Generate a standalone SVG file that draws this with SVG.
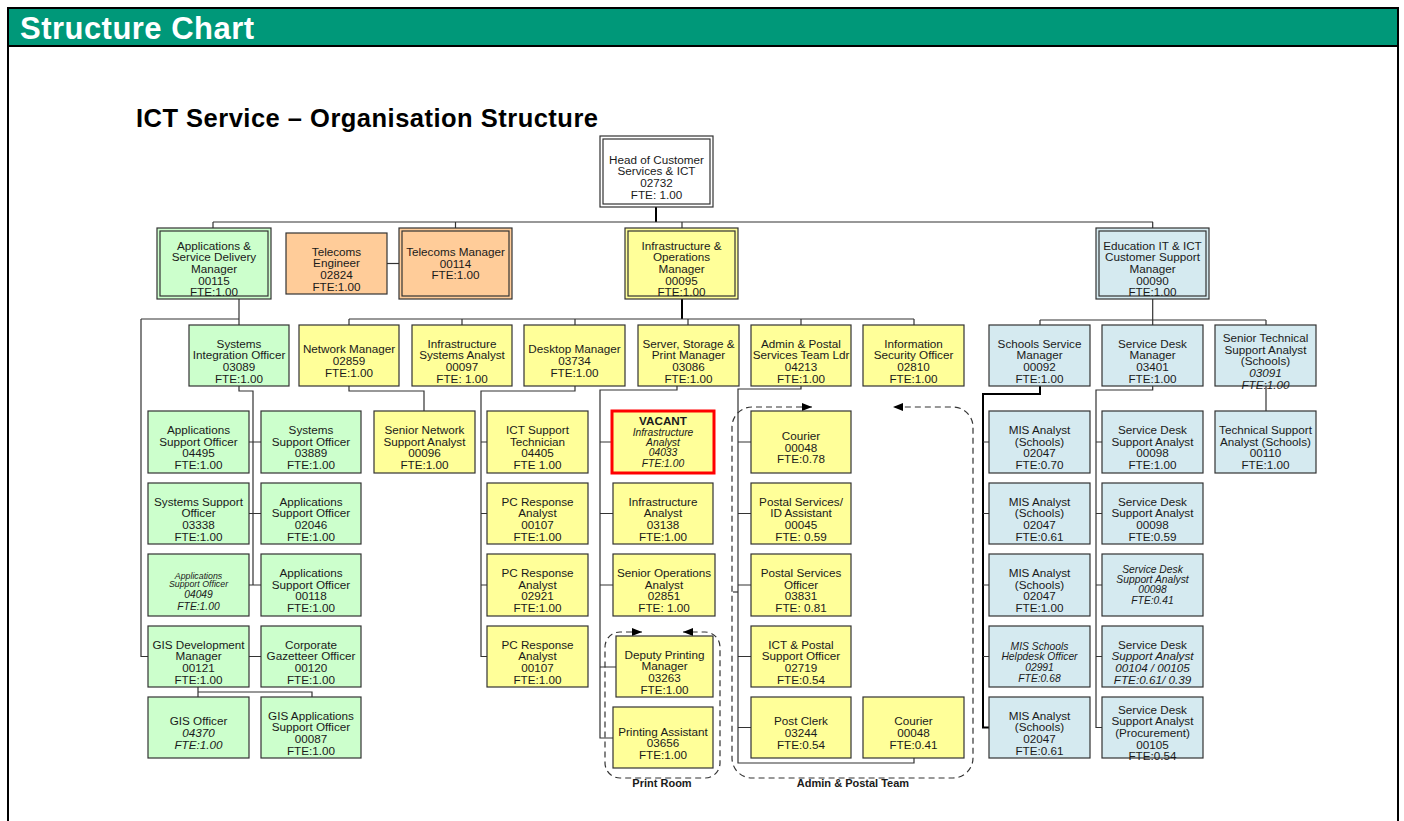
<svg xmlns="http://www.w3.org/2000/svg" width="1404" height="821" viewBox="0 0 1404 821">
<style>
text{font-family:"Liberation Sans",Arial,sans-serif;fill:#1a1a1a;text-anchor:middle;font-size:11.7px}
.i{font-style:italic}
.bd{font-weight:bold}
.g{fill:#ccffcc;stroke:#333;stroke-width:1.2}
.y{fill:#ffff99;stroke:#333;stroke-width:1.2}
.o{fill:#ffcc99;stroke:#333;stroke-width:1.2}
.b{fill:#d5eaf0;stroke:#333;stroke-width:1.2}
.w{fill:#fff;stroke:#333;stroke-width:1.2}
.in{fill:none;stroke:#333;stroke-width:1.2}
.c{fill:none;stroke:#333;stroke-width:1.2}
.ct{fill:none;stroke:#000;stroke-width:2}
.d{fill:none;stroke:#333;stroke-width:1.2;stroke-dasharray:6 4}
</style>
<defs>
<marker id="ar" markerUnits="userSpaceOnUse" markerWidth="12" markerHeight="10" refX="10" refY="4" orient="auto-start-reverse"><path d="M0,0 L10,4 L0,8 Z" fill="#000"/></marker>
</defs>
<rect x="8" y="8" width="1390" height="850" fill="#fff" stroke="#000" stroke-width="2"/>
<rect x="9" y="9" width="1388" height="36" fill="#009879"/>
<line x1="8" y1="46" x2="1398" y2="46" stroke="#000" stroke-width="2"/>
<text x="20" y="39" textLength="234" style="fill:#fff;font-size:31px;font-weight:bold;text-anchor:start">Structure Chart</text>
<text x="136" y="127" textLength="462" style="font-size:25.5px;font-weight:bold;text-anchor:start;fill:#000">ICT Service – Organisation Structure</text>

<g id="connectors">
<path class="ct" d="M656 207V222"/>
<path class="c" d="M213 222H1153M213 222V228M455.5 222V228M682 222V228M1152.7 222V228"/>
<path class="c" d="M387 263.5H399"/>
<path class="c" d="M239 299V325M141 319H239M141 319V656.5H148"/>
<path class="c" d="M239 386V391H253V585M249 442H261M249 513.5H261M249 585H261"/>
<path class="c" d="M249 656.5H261M198 687V697M198 692H312V697"/>
<path class="ct" d="M682 299V319"/>
<path class="c" d="M349 319H914M349 319V325M462 319V325M575 319V325M688 319V325M801 319V325M914 319V325"/>
<path class="c" d="M349 386V391H424V411"/>
<path class="c" d="M575 386V391H481V656.5H487M481 442H487M481 513.5H487M481 585H487"/>
<path class="c" d="M677 386V390H600V738H613M600 442H612M600 513.5H613M600 585H613M600 667H616"/>
<path class="c" d="M801 386V389H738V763H914V758M738 442H751M738 513.5H751M738 585H751M738 656.5H751M738 727.5H751"/>
<path class="c" d="M733 592H738"/>
<path class="c" d="M1152.7 299V325M1040 320H1266M1040 320V325M1266 320V325"/>
<path class="ct" d="M1040 386V394H983V727.5H989"/>
<path class="c" d="M983 442H989M983 513.5H989M983 585H989M983 656.5H989"/>
<path class="c" d="M1152.7 386V390H1096V727.5H1102M1096 442H1102M1096 513.5H1102M1096 585H1102M1096 656.5H1102"/>
<path class="c" d="M1266 386V411"/>
</g>

<g id="print-room">
<path class="d" d="M642 632H620A15 15 0 0 0 605 647V763A15 15 0 0 0 620 778H705A15 15 0 0 0 720 763V647A15 15 0 0 0 705 632H683" marker-start="url(#ar)" marker-end="url(#ar)"/>
<text x="662" y="787" class="bd" style="font-size:11px">Print Room</text>
</g>
<g id="admin-team">
<path class="d" d="M812 407H752A20 20 0 0 0 732 427V758A20 20 0 0 0 752 778H953A20 20 0 0 0 973 758V427A20 20 0 0 0 953 407H893" marker-start="url(#ar)" marker-end="url(#ar)"/>
<text x="853" y="787" class="bd" style="font-size:11px">Admin &amp; Postal Team</text>
</g>

<g id="n-head"><rect class="w" x="600" y="136" width="113" height="71"/><rect class="in" x="603" y="139" width="107" height="65"/>
<text x="656.5"><tspan x="656.5" y="163.5">Head of Customer</tspan><tspan x="656.5" y="175.2">Services &amp; ICT</tspan><tspan x="656.5" y="186.9">02732</tspan><tspan x="656.5" y="198.6">FTE: 1.00</tspan></text></g>

<g id="n-apps-mgr"><rect class="g" x="157" y="228" width="114" height="71"/><rect class="in" x="160" y="231" width="108" height="65"/>
<text><tspan x="214" y="249.6">Applications &amp;</tspan><tspan x="214" y="261.3">Service Delivery</tspan><tspan x="214" y="273">Manager</tspan><tspan x="214" y="284.7">00115</tspan><tspan x="214" y="296.4">FTE:1.00</tspan></text></g>

<g id="n-tel-eng"><rect class="o" x="286" y="233" width="101" height="61"/>
<text><tspan x="336.5" y="255.5">Telecoms</tspan><tspan x="336.5" y="267.2">Engineer</tspan><tspan x="336.5" y="278.9">02824</tspan><tspan x="336.5" y="290.6">FTE:1.00</tspan></text></g>

<g id="n-tel-mgr"><rect class="o" x="399" y="228" width="113" height="71"/><rect class="in" x="402" y="231" width="107" height="65"/>
<text><tspan x="455.5" y="256">Telecoms Manager</tspan><tspan x="455.5" y="267.7">00114</tspan><tspan x="455.5" y="279.4">FTE:1.00</tspan></text></g>

<g id="n-infra-mgr"><rect class="y" x="625" y="228" width="113" height="71"/><rect class="in" x="628" y="231" width="107" height="65"/>
<text><tspan x="681.5" y="249.6">Infrastructure &amp;</tspan><tspan x="681.5" y="261.3">Operations</tspan><tspan x="681.5" y="273">Manager</tspan><tspan x="681.5" y="284.7">00095</tspan><tspan x="681.5" y="296.4">FTE:1.00</tspan></text></g>

<g id="n-edu-mgr"><rect class="b" x="1096" y="228" width="113" height="71"/><rect class="in" x="1099" y="231" width="107" height="65"/>
<text><tspan x="1152.5" y="249.6">Education IT &amp; ICT</tspan><tspan x="1152.5" y="261.3">Customer Support</tspan><tspan x="1152.5" y="273">Manager</tspan><tspan x="1152.5" y="284.7">00090</tspan><tspan x="1152.5" y="296.4">FTE:1.00</tspan></text></g>

<g id="n-sio"><rect class="g" x="189" y="325" width="100" height="61"/>
<text><tspan x="239" y="347.5">Systems</tspan><tspan x="239" y="359.2">Integration Officer</tspan><tspan x="239" y="370.9">03089</tspan><tspan x="239" y="382.6">FTE:1.00</tspan></text></g>

<g id="n-netmgr"><rect class="y" x="299" y="325" width="100" height="61"/>
<text><tspan x="349" y="353.3">Network Manager</tspan><tspan x="349" y="365">02859</tspan><tspan x="349" y="376.7">FTE:1.00</tspan></text></g>

<g id="n-isa"><rect class="y" x="412" y="325" width="100" height="61"/>
<text><tspan x="462" y="347.5">Infrastructure</tspan><tspan x="462" y="359.2">Systems Analyst</tspan><tspan x="462" y="370.9">00097</tspan><tspan x="462" y="382.6">FTE: 1.00</tspan></text></g>

<g id="n-desktop"><rect class="y" x="524" y="325" width="101" height="61"/>
<text><tspan x="574.5" y="353.3">Desktop Manager</tspan><tspan x="574.5" y="365">03734</tspan><tspan x="574.5" y="376.7">FTE:1.00</tspan></text></g>

<g id="n-server"><rect class="y" x="638" y="325" width="101" height="61"/>
<text><tspan x="688.5" y="347.5">Server, Storage &amp;</tspan><tspan x="688.5" y="359.2">Print Manager</tspan><tspan x="688.5" y="370.9">03086</tspan><tspan x="688.5" y="382.6">FTE:1.00</tspan></text></g>

<g id="n-admin"><rect class="y" x="751" y="325" width="100" height="61"/>
<text><tspan x="801" y="347.5">Admin &amp; Postal</tspan><tspan x="801" y="359.2">Services Team Ldr</tspan><tspan x="801" y="370.9">04213</tspan><tspan x="801" y="382.6">FTE:1.00</tspan></text></g>

<g id="n-infosec"><rect class="y" x="863" y="325" width="101" height="61"/>
<text><tspan x="913.5" y="347.5">Information</tspan><tspan x="913.5" y="359.2">Security Officer</tspan><tspan x="913.5" y="370.9">02810</tspan><tspan x="913.5" y="382.6">FTE:1.00</tspan></text></g>

<g id="n-schools"><rect class="b" x="989" y="325" width="101" height="61"/>
<text><tspan x="1039.5" y="347.5">Schools Service</tspan><tspan x="1039.5" y="359.2">Manager</tspan><tspan x="1039.5" y="370.9">00092</tspan><tspan x="1039.5" y="382.6">FTE:1.00</tspan></text></g>

<g id="n-sdm"><rect class="b" x="1102" y="325" width="101" height="61"/>
<text><tspan x="1152.5" y="347.5">Service Desk</tspan><tspan x="1152.5" y="359.2">Manager</tspan><tspan x="1152.5" y="370.9">03401</tspan><tspan x="1152.5" y="382.6">FTE:1.00</tspan></text></g>

<g id="n-stsa"><rect class="b" x="1215" y="325" width="101" height="61"/>
<text><tspan x="1265.5" y="341.8">Senior Technical</tspan><tspan x="1265.5" y="353.5">Support Analyst</tspan><tspan x="1265.5" y="365.2">(Schools)</tspan><tspan x="1265.5" y="376.9" class="i">03091</tspan><tspan x="1265.5" y="388.6" class="i">FTE:1.00</tspan></text></g>

<g id="n-aso1"><rect class="g" x="148" y="411" width="101" height="62"/>
<text><tspan x="198.5" y="434">Applications</tspan><tspan x="198.5" y="445.7">Support Officer</tspan><tspan x="198.5" y="457.4">04495</tspan><tspan x="198.5" y="469.1">FTE:1.00</tspan></text></g>

<g id="n-sso1"><rect class="g" x="261" y="411" width="100" height="62"/>
<text><tspan x="311" y="434">Systems</tspan><tspan x="311" y="445.7">Support Officer</tspan><tspan x="311" y="457.4">03889</tspan><tspan x="311" y="469.1">FTE:1.00</tspan></text></g>

<g id="n-snsa"><rect class="y" x="374" y="411" width="101" height="62"/>
<text><tspan x="424.5" y="434">Senior Network</tspan><tspan x="424.5" y="445.7">Support Analyst</tspan><tspan x="424.5" y="457.4">00096</tspan><tspan x="424.5" y="469.1">FTE:1.00</tspan></text></g>

<g id="n-ict-tech"><rect class="y" x="487" y="411" width="101" height="62"/>
<text><tspan x="537.5" y="434">ICT Support</tspan><tspan x="537.5" y="445.7">Technician</tspan><tspan x="537.5" y="457.4">04405</tspan><tspan x="537.5" y="469.1">FTE 1.00</tspan></text></g>

<g id="n-vacant"><rect class="y" x="612" y="411" width="102" height="62" style="stroke:#f00;stroke-width:3"/>
<text><tspan x="663" y="425" class="bd">VACANT</tspan><tspan x="663" y="436" class="i" style="font-size:10.3px">Infrastructure</tspan><tspan x="663" y="446.2" class="i" style="font-size:10.3px">Analyst</tspan><tspan x="663" y="456.2" class="i" style="font-size:10.3px">04033</tspan><tspan x="663" y="467.2" class="i" style="font-size:10.3px">FTE:1.00</tspan></text></g>

<g id="n-courier1"><rect class="y" x="751" y="411" width="100" height="62"/>
<text><tspan x="801" y="439.8">Courier</tspan><tspan x="801" y="451.5">00048</tspan><tspan x="801" y="463.2">FTE:0.78</tspan></text></g>

<g id="n-mis1"><rect class="b" x="989" y="411" width="101" height="62"/>
<text><tspan x="1039.5" y="434">MIS Analyst</tspan><tspan x="1039.5" y="445.7">(Schools)</tspan><tspan x="1039.5" y="457.4">02047</tspan><tspan x="1039.5" y="469.1">FTE:0.70</tspan></text></g>

<g id="n-sdsa1"><rect class="b" x="1102" y="411" width="101" height="62"/>
<text><tspan x="1152.5" y="434">Service Desk</tspan><tspan x="1152.5" y="445.7">Support Analyst</tspan><tspan x="1152.5" y="457.4">00098</tspan><tspan x="1152.5" y="469.1">FTE:1.00</tspan></text></g>

<g id="n-tsa"><rect class="b" x="1215" y="411" width="101" height="62"/>
<text><tspan x="1265.5" y="434">Technical Support</tspan><tspan x="1265.5" y="445.7">Analyst (Schools)</tspan><tspan x="1265.5" y="457.4">00110</tspan><tspan x="1265.5" y="469.1">FTE:1.00</tspan></text></g>

<g id="n-sso2"><rect class="g" x="148" y="483" width="101" height="61"/>
<text><tspan x="198.5" y="505.5">Systems Support</tspan><tspan x="198.5" y="517.2">Officer</tspan><tspan x="198.5" y="528.9">03338</tspan><tspan x="198.5" y="540.6">FTE:1.00</tspan></text></g>

<g id="n-aso2"><rect class="g" x="261" y="483" width="100" height="61"/>
<text><tspan x="311" y="505.5">Applications</tspan><tspan x="311" y="517.2">Support Officer</tspan><tspan x="311" y="528.9">02046</tspan><tspan x="311" y="540.6">FTE:1.00</tspan></text></g>

<g id="n-pcr1"><rect class="y" x="487" y="483" width="101" height="61"/>
<text><tspan x="537.5" y="505.5">PC Response</tspan><tspan x="537.5" y="517.2">Analyst</tspan><tspan x="537.5" y="528.9">00107</tspan><tspan x="537.5" y="540.6">FTE:1.00</tspan></text></g>

<g id="n-infa"><rect class="y" x="613" y="483" width="100" height="61"/>
<text><tspan x="663" y="505.5">Infrastructure</tspan><tspan x="663" y="517.2">Analyst</tspan><tspan x="663" y="528.9">03138</tspan><tspan x="663" y="540.6">FTE:1.00</tspan></text></g>

<g id="n-psida"><rect class="y" x="751" y="483" width="100" height="61"/>
<text><tspan x="801" y="505.5">Postal Services/</tspan><tspan x="801" y="517.2">ID Assistant</tspan><tspan x="801" y="528.9">00045</tspan><tspan x="801" y="540.6">FTE: 0.59</tspan></text></g>

<g id="n-mis2"><rect class="b" x="989" y="483" width="101" height="61"/>
<text><tspan x="1039.5" y="505.5">MIS Analyst</tspan><tspan x="1039.5" y="517.2">(Schools)</tspan><tspan x="1039.5" y="528.9">02047</tspan><tspan x="1039.5" y="540.6">FTE:0.61</tspan></text></g>

<g id="n-sdsa2"><rect class="b" x="1102" y="483" width="101" height="61"/>
<text><tspan x="1152.5" y="505.5">Service Desk</tspan><tspan x="1152.5" y="517.2">Support Analyst</tspan><tspan x="1152.5" y="528.9">00098</tspan><tspan x="1152.5" y="540.6">FTE:0.59</tspan></text></g>

<g id="n-aso3"><rect class="g" x="148" y="554" width="101" height="62"/>
<text class="i"><tspan x="198.5" y="578.5" style="font-size:8.8px">Applications</tspan><tspan x="198.5" y="587" style="font-size:8.8px">Support Officer</tspan><tspan x="198.5" y="597.5" style="font-size:10.3px">04049</tspan><tspan x="198.5" y="609.5" style="font-size:10.3px">FTE:1.00</tspan></text></g>

<g id="n-aso4"><rect class="g" x="261" y="554" width="100" height="62"/>
<text><tspan x="311" y="577">Applications</tspan><tspan x="311" y="588.7">Support Officer</tspan><tspan x="311" y="600.4">00118</tspan><tspan x="311" y="612.1">FTE:1.00</tspan></text></g>

<g id="n-pcr2"><rect class="y" x="487" y="554" width="101" height="62"/>
<text><tspan x="537.5" y="577">PC Response</tspan><tspan x="537.5" y="588.7">Analyst</tspan><tspan x="537.5" y="600.4">02921</tspan><tspan x="537.5" y="612.1">FTE:1.00</tspan></text></g>

<g id="n-soa"><rect class="y" x="613" y="554" width="102" height="62"/>
<text><tspan x="664" y="577">Senior Operations</tspan><tspan x="664" y="588.7">Analyst</tspan><tspan x="664" y="600.4">02851</tspan><tspan x="664" y="612.1">FTE: 1.00</tspan></text></g>

<g id="n-pso"><rect class="y" x="751" y="554" width="100" height="62"/>
<text><tspan x="801" y="577">Postal Services</tspan><tspan x="801" y="588.7">Officer</tspan><tspan x="801" y="600.4">03831</tspan><tspan x="801" y="612.1">FTE: 0.81</tspan></text></g>

<g id="n-mis3"><rect class="b" x="989" y="554" width="101" height="62"/>
<text><tspan x="1039.5" y="577">MIS Analyst</tspan><tspan x="1039.5" y="588.7">(Schools)</tspan><tspan x="1039.5" y="600.4">02047</tspan><tspan x="1039.5" y="612.1">FTE:1.00</tspan></text></g>

<g id="n-sdsa3"><rect class="b" x="1102" y="554" width="101" height="62"/>
<text class="i" style="font-size:10.3px"><tspan x="1152.5" y="572.5">Service Desk</tspan><tspan x="1152.5" y="582.5">Support Analyst</tspan><tspan x="1152.5" y="592.5">00098</tspan><tspan x="1152.5" y="604">FTE:0.41</tspan></text></g>

<g id="n-gisdev"><rect class="g" x="148" y="626" width="101" height="61"/>
<text><tspan x="198.5" y="648.5">GIS Development</tspan><tspan x="198.5" y="660.2">Manager</tspan><tspan x="198.5" y="671.9">00121</tspan><tspan x="198.5" y="683.6">FTE:1.00</tspan></text></g>

<g id="n-cgo"><rect class="g" x="261" y="626" width="100" height="61"/>
<text><tspan x="311" y="648.5">Corporate</tspan><tspan x="311" y="660.2">Gazetteer Officer</tspan><tspan x="311" y="671.9">00120</tspan><tspan x="311" y="683.6">FTE:1.00</tspan></text></g>

<g id="n-pcr3"><rect class="y" x="487" y="626" width="101" height="61"/>
<text><tspan x="537.5" y="648.5">PC Response</tspan><tspan x="537.5" y="660.2">Analyst</tspan><tspan x="537.5" y="671.9">00107</tspan><tspan x="537.5" y="683.6">FTE:1.00</tspan></text></g>

<g id="n-dpm"><rect class="y" x="616" y="636" width="97" height="61"/>
<text><tspan x="664.5" y="658.5">Deputy Printing</tspan><tspan x="664.5" y="670.2">Manager</tspan><tspan x="664.5" y="681.9">03263</tspan><tspan x="664.5" y="693.6">FTE:1.00</tspan></text></g>

<g id="n-ipso"><rect class="y" x="751" y="626" width="100" height="61"/>
<text><tspan x="801" y="648.5">ICT &amp; Postal</tspan><tspan x="801" y="660.2">Support Officer</tspan><tspan x="801" y="671.9">02719</tspan><tspan x="801" y="683.6">FTE:0.54</tspan></text></g>

<g id="n-mis4"><rect class="b" x="989" y="626" width="101" height="61"/>
<text class="i" style="font-size:10.3px"><tspan x="1039.5" y="649.5">MIS Schools</tspan><tspan x="1039.5" y="660">Helpdesk Officer</tspan><tspan x="1039.5" y="670.5">02991</tspan><tspan x="1039.5" y="681.5">FTE:0.68</tspan></text></g>

<g id="n-sdsa4"><rect class="b" x="1102" y="626" width="101" height="61"/>
<text><tspan x="1152.5" y="648.5">Service Desk</tspan><tspan x="1152.5" y="660.2" class="i">Support Analyst</tspan><tspan x="1152.5" y="671.9" class="i">00104 / 00105</tspan><tspan x="1152.5" y="683.6" class="i">FTE:0.61/ 0.39</tspan></text></g>

<g id="n-giso"><rect class="g" x="148" y="697" width="101" height="61"/>
<text><tspan x="198.5" y="725.3">GIS Officer</tspan><tspan x="198.5" y="737" class="i">04370</tspan><tspan x="198.5" y="748.7" class="i">FTE:1.00</tspan></text></g>

<g id="n-gisaso"><rect class="g" x="261" y="697" width="100" height="61"/>
<text><tspan x="311" y="719.5">GIS Applications</tspan><tspan x="311" y="731.2">Support Officer</tspan><tspan x="311" y="742.9">00087</tspan><tspan x="311" y="754.6">FTE:1.00</tspan></text></g>

<g id="n-pa"><rect class="y" x="613" y="707" width="100" height="61"/>
<text><tspan x="663" y="735.5">Printing Assistant</tspan><tspan x="663" y="747.2">03656</tspan><tspan x="663" y="758.9">FTE:1.00</tspan></text></g>

<g id="n-postclerk"><rect class="y" x="751" y="697" width="100" height="61"/>
<text><tspan x="801" y="725.3">Post Clerk</tspan><tspan x="801" y="737">03244</tspan><tspan x="801" y="748.7">FTE:0.54</tspan></text></g>

<g id="n-courier2"><rect class="y" x="863" y="697" width="101" height="61"/>
<text><tspan x="913.5" y="725.3">Courier</tspan><tspan x="913.5" y="737">00048</tspan><tspan x="913.5" y="748.7">FTE:0.41</tspan></text></g>

<g id="n-mis5"><rect class="b" x="989" y="697" width="101" height="61"/>
<text><tspan x="1039.5" y="719.5">MIS Analyst</tspan><tspan x="1039.5" y="731.2">(Schools)</tspan><tspan x="1039.5" y="742.9">02047</tspan><tspan x="1039.5" y="754.6">FTE:0.61</tspan></text></g>

<g id="n-sdsa5"><rect class="b" x="1102" y="697" width="101" height="61"/>
<text><tspan x="1152.5" y="713.6">Service Desk</tspan><tspan x="1152.5" y="725.3">Support Analyst</tspan><tspan x="1152.5" y="737">(Procurement)</tspan><tspan x="1152.5" y="748.7">00105</tspan><tspan x="1152.5" y="760.4">FTE:0.54</tspan></text></g>
</svg>
